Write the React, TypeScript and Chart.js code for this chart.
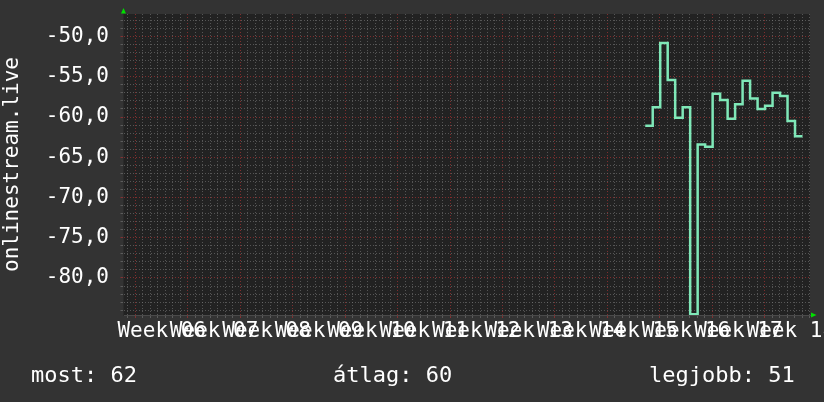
import React, { useEffect, useRef } from "react";
import { Chart, ChartConfiguration, registerables } from "chart.js";

Chart.register(...registerables);

// week labels under the x axis (one per week, centred on the week)
const weekLabels = [
  "Week 06", "Week 07", "Week 08", "Week 09", "Week 10", "Week 11", "Week 12",
  "Week 13", "Week 14", "Week 15", "Week 16", "Week 17", "Week 18",
];

// day of the first sample, counted from the start of Week 07
const firstSampleDay = 68.06;

// one value per day (dBm-ish)
const dailyValues = [
  -61.1, -58.8, -50.8, -55.4, -60.1, -58.8, -84.5, -63.4, -63.7, -57.1, -57.9,
  -60.2, -58.4, -55.5, -57.7, -59.0, -58.6, -57.0, -57.4, -60.5, -62.4,
];

const yTickValues = [-50, -55, -60, -65, -70, -75, -80];

const statLabels = ["most", "átlag", "legjobb"];
const statValues = [62, 60, 51];

const FONT = "'DejaVu Sans Mono', monospace";
const MAJOR = "rgba(150, 50, 50, 0.8)";
const MINOR = "rgba(120, 120, 120, 0.6)";

const rrdLook = {
  id: "rrdLook",
  beforeDraw(chart: Chart) {
    const { ctx, chartArea: a } = chart;
    ctx.save();
    ctx.fillStyle = "#333333";
    ctx.fillRect(0, 0, chart.width, chart.height);
    ctx.fillStyle = "#222222";
    ctx.fillRect(a.left, a.top, a.right - a.left, a.bottom - a.top);
    ctx.restore();
  },
  afterDraw(chart: Chart) {
    const { ctx, chartArea: a } = chart;
    ctx.save();
    // axis arrows
    ctx.fillStyle = "#00e000";
    ctx.beginPath();
    ctx.moveTo(a.left - 2.5, a.top - 0.5);
    ctx.lineTo(a.left + 2.5, a.top - 0.5);
    ctx.lineTo(a.left, a.top - 6);
    ctx.closePath();
    ctx.fill();
    ctx.beginPath();
    ctx.moveTo(a.right + 1, a.bottom - 2.5);
    ctx.lineTo(a.right + 1, a.bottom + 2.5);
    ctx.lineTo(a.right + 6.5, a.bottom);
    ctx.closePath();
    ctx.fill();

    // footer
    ctx.fillStyle = "#ffffff";
    ctx.font = `22px ${FONT}`;
    ctx.textBaseline = "alphabetic";
    const xs = [31, 333, 649];
    statLabels.forEach((label, i) => {
      ctx.fillText(`${label}: ${statValues[i]}`, xs[i], 382);
    });
    ctx.restore();
  },
};

const App: React.FC = () => {
  const canvasRef = useRef<HTMLCanvasElement>(null);
  const chartRef = useRef<Chart | null>(null);

  useEffect(() => {
    document.body.style.margin = "0";
    document.body.style.background = "#333333";
    if (!canvasRef.current) return;

    if (chartRef.current) {
      chartRef.current.destroy();
    }

    const points = dailyValues.map((v, i) => ({ x: firstSampleDay + i, y: v }));
    points.push({
      x: firstSampleDay + dailyValues.length,
      y: dailyValues[dailyValues.length - 1],
    });

    const chartConfig = {
      type: "line",
      data: {
        datasets: [
          {
            data: points,
            stepped: true,
            borderColor: "#7fe8b8",
            borderWidth: 2.5,
            pointRadius: 0,
            fill: false,
          },
        ],
      },
      options: {
        responsive: false,
        animation: false,
        events: [],
        layout: { padding: { left: 0, top: 14, right: 14, bottom: 0 } },
        plugins: {
          legend: { display: false },
          tooltip: { enabled: false },
          title: { display: false },
        },
        scales: {
          x: {
            type: "linear",
            min: -1.6,
            max: 90.06,
            afterBuildTicks: (scale: any) => {
              const values: number[] = [];
              for (let d = -1; d <= 90; d++) values.push(d);
              weekLabels.forEach((_, k) => values.push(3.5 + 7 * k));
              values.sort((p, q) => p - q);
              scale.ticks = values.map((value) => ({ value }));
            },
            afterFit: (scale: any) => {
              scale.height = 87;
              scale.paddingLeft = 0;
              scale.paddingRight = 0;
            },
            grid: {
              color: (c: any) => {
                const v = c.tick?.value;
                if (v === undefined || !Number.isInteger(v)) return "transparent";
                return v % 7 === 0 ? MAJOR : MINOR;
              },
              lineWidth: 1,
              drawTicks: true,
              tickLength: 3,
            },
            border: { display: true, color: "#4a4a4a", width: 1, dash: [1, 2] },
            ticks: {
              autoSkip: false,
              maxRotation: 0,
              minRotation: 0,
              padding: 1,
              color: "#ffffff",
              font: { family: FONT, size: 21 },
              callback: (value: number) => {
                if (Number.isInteger(value)) return "";
                const k = Math.round((value - 3.5) / 7);
                return weekLabels[k] ?? "";
              },
            },
          },
          y: {
            type: "linear",
            min: -84.6,
            max: -47.2,
            afterBuildTicks: (scale: any) => {
              const ticks = [];
              for (let v = -84; v <= -48; v++) ticks.push({ value: v });
              scale.ticks = ticks;
            },
            afterFit: (scale: any) => {
              scale.width = 123.5;
              scale.paddingTop = 0;
              scale.paddingBottom = 0;
            },
            grid: {
              color: (c: any) => {
                const v = c.tick?.value;
                if (v === undefined) return "transparent";
                return v % 5 === 0 ? MAJOR : MINOR;
              },
              lineWidth: 1,
              drawTicks: true,
              tickLength: 3,
            },
            border: { display: true, color: "#2a2a2a", width: 1, dash: [1, 2] },
            ticks: {
              autoSkip: false,
              padding: 11.5,
              color: "#ffffff",
              font: { family: FONT, size: 21 },
              callback: (value: number) =>
                yTickValues.includes(value)
                  ? value.toFixed(1).replace(".", ",")
                  : "",
            },
            title: {
              display: true,
              text: "onlinestream.live",
              color: "#ffffff",
              font: { family: FONT, size: 21 },
              padding: 0,
            },
          },
        },
      },
      plugins: [rrdLook],
    };

    try {
      chartRef.current = new Chart(
        canvasRef.current,
        chartConfig as unknown as ChartConfiguration,
      );
    } catch (error) {
      console.error("Error creating chart:", error);
    }

    return () => {
      if (chartRef.current) {
        chartRef.current.destroy();
        chartRef.current = null;
      }
    };
  }, []);

  return (
    <div style={{ width: 824, height: 402, background: "#333333" }}>
      <canvas ref={canvasRef} width={824} height={402} />
    </div>
  );
};

export default App;
